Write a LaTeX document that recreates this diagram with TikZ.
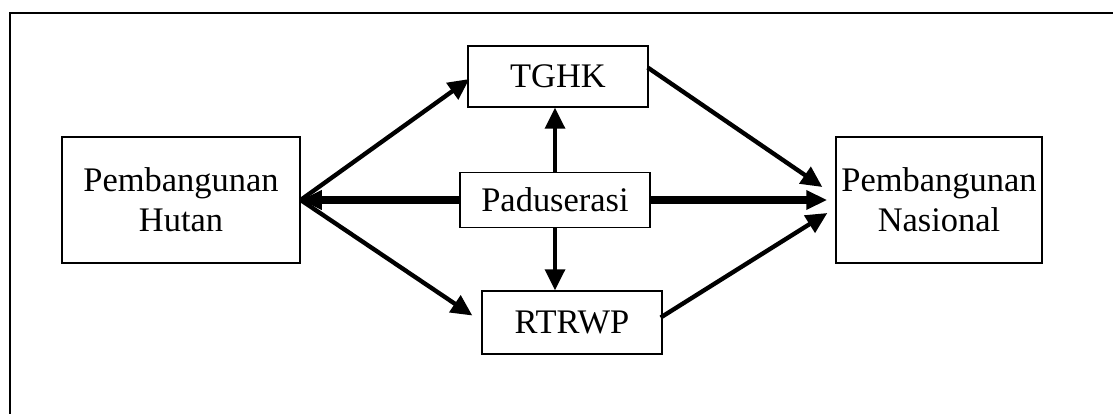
\documentclass[tikz,border=0pt]{standalone}
\usepackage{fontspec}
\setmainfont{Liberation Serif}
\usetikzlibrary{arrows.meta,positioning,calc}

\begin{document}
\begin{tikzpicture}[x=0.025cm, y=-0.025cm, font=\fontsize{24.5}{28.5}\selectfont,
    box/.style={rectangle, draw, line width=0.9pt, align=center, inner sep=0pt},
    link/.style={line width=3.1pt, -{Triangle[length=15pt,width=14pt]}},
    boldlink/.style={line width=5pt, -{Triangle[length=15pt,width=13pt]}}]
    \useasboundingbox (0,0) rectangle (1113,414);
    % frame, cut off on the right and at the bottom
    \draw[line width=0.9pt] (10,430) -- (10,13) -- (1130,13);

    \node[box, minimum width=5.95cm, minimum height=3.15cm] (hutan) at (181,200)
      {Pembangunan\\Hutan};
    \node[box, minimum width=5.15cm, minimum height=3.15cm] (nasional) at (939,200)
      {Pembangunan\\Nasional};
    \node[box, minimum width=4.5cm, minimum height=1.525cm] (tghk) at (558,76.5) {TGHK};
    \node[box, minimum width=4.75cm, minimum height=1.375cm] (padu) at (555,200) {Paduserasi};
    \node[box, minimum width=4.5cm, minimum height=1.575cm] (rtrwp) at (572,322.5) {RTRWP};

    % from the forest side
    \draw[link] (hutan.east) -- ($(tghk.west)+(2,2.5)$);
    \draw[link] (hutan.east) -- ($(rtrwp.west)+(-9,-7)$);
    \draw[boldlink] (padu.west) -- (hutan.east);

    % paduserasi up and down
    \draw[link] (padu.north) -- (padu.north |- tghk.south);
    \draw[link] (padu.south) -- (padu.south |- rtrwp.north);

    % into national development
    \draw[link] ($(tghk.east)+(-1,-9)$) -- ($(nasional.west)+(-13,-13)$);
    \draw[boldlink] (padu.east) -- ($(nasional.west)+(-8,0)$);
    \draw[link] ($(rtrwp.east)+(-2,-5)$) -- ($(nasional.west)+(-8,13)$);
\end{tikzpicture}
\end{document}
